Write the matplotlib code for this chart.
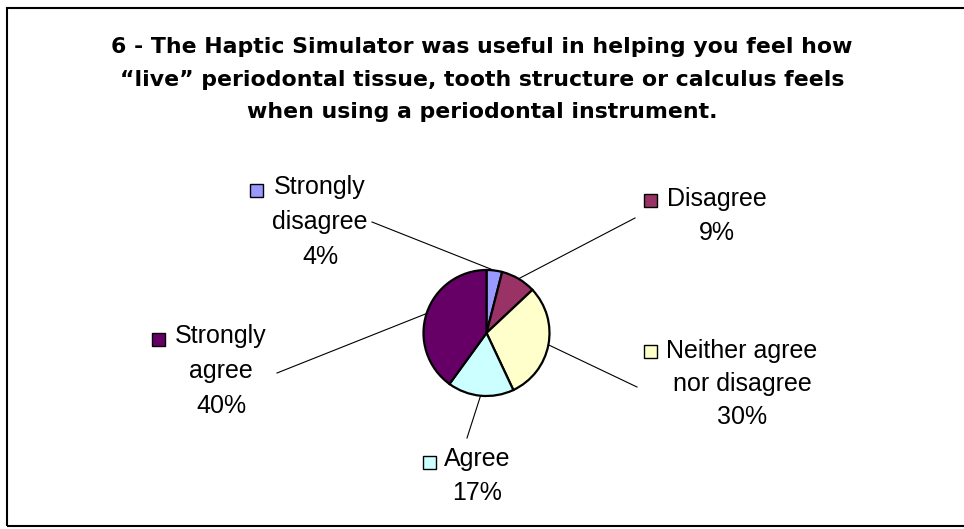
import matplotlib
matplotlib.use("Agg")
import matplotlib.pyplot as plt
from matplotlib.patches import Rectangle
import numpy as np

plt.rcParams['font.family'] = ['Liberation Sans', 'DejaVu Sans']

# ---- data ----
categories = ["Strongly disagree", "Disagree", "Neither agree nor disagree", "Agree", "Strongly agree"]
values = [4, 9, 30, 17, 40]
colors = ["#9999FF", "#993366", "#FFFFCC", "#CCFFFF", "#660066"]
label_lines = [["Strongly", "disagree"], ["Disagree"], ["Neither agree", "nor disagree"], ["Agree"], ["Strongly", "agree"]]
title_lines = ["6 - The Haptic Simulator was useful in helping you feel how",
               "\u201clive\u201d periodontal tissue, tooth structure or calculus feels",
               "when using a periodontal instrument."]

W, H = 964, 529
fig = plt.figure(figsize=(W / 100, H / 100), dpi=100)
ax = fig.add_axes([0, 0, 1, 1])

def Y(p):
    return H - p

# pie
cx, cy, r = 486.5, Y(333), 63
wedges, _ = ax.pie(values, colors=colors, startangle=90, counterclock=False,
                   center=(cx, cy), radius=r, frame=True,
                   wedgeprops=dict(edgecolor='black', linewidth=1.6))
ax.set_xlim(0, W)
ax.set_ylim(0, H)
ax.set_aspect('equal')
ax.axis('off')

# outer frame
ax.add_patch(Rectangle((7, Y(526)), 970, 518, fill=False, edgecolor='black', linewidth=1.5, clip_on=False))

# title
for i, t in enumerate(title_lines):
    ax.text(482, Y(47 + i * 32.5), t, ha='center', va='center', fontsize=15.8,
            fontweight='bold', family='DejaVu Sans')

# label layout: (center x of text block, y of first line, box center, leader end)
layout = [
    dict(tx=320, ty=187, box=(256, 190), end=(372, 222)),
    dict(tx=717, ty=199, box=(650, 200), end=(635, 218)),
    dict(tx=742, ty=351, box=(650, 351), end=(637, 387)),
    dict(tx=477, ty=459, box=(429, 462), end=(467, 438)),
    dict(tx=221, ty=336, box=(158, 339), end=(277, 373)),
]
spacing = [35, 34, 33, 34, 35]

total = sum(values)
cum = 0
for i, v in enumerate(values):
    mid = (cum + v / 2) / total * 360
    cum += v
    ang = np.deg2rad(90 - mid)
    sx, sy = cx + r * np.cos(ang), cy + r * np.sin(ang)
    L = layout[i]
    ex, ey = L['end']
    ax.plot([sx, ex], [sy, Y(ey)], color='black', linewidth=0.8, zorder=1)
    lines = label_lines[i] + ["%d%%" % v]
    for j, ln in enumerate(lines):
        ax.text(L['tx'], Y(L['ty'] + j * spacing[i]), ln, ha='center', va='center', fontsize=18)
    s = 13
    bx, by = L['box']
    ax.add_patch(Rectangle((bx - s / 2, Y(by) - s / 2), s, s,
                           facecolor=colors[i], edgecolor='black', linewidth=1.0))

fig.savefig("out.png", dpi=100, facecolor='white')
